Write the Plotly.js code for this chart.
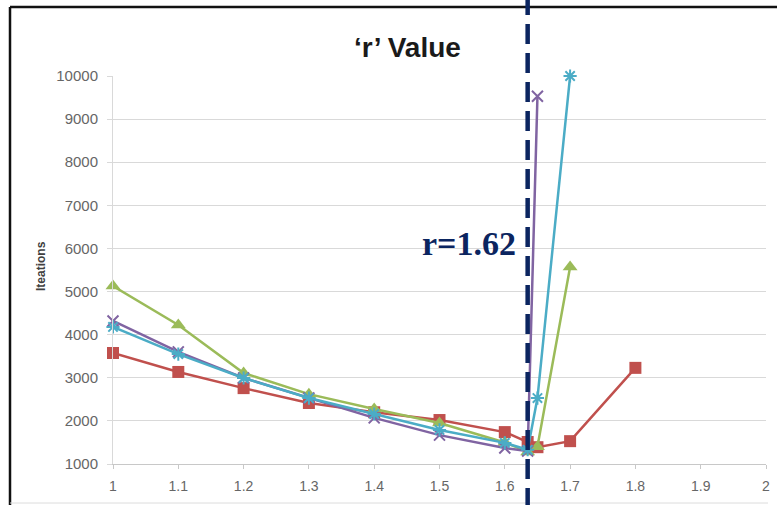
<!DOCTYPE html>
<html>
<head>
<meta charset="utf-8">
<script src="https://cdn.plot.ly/plotly-3.0.1.min.js"></script>
<style>html,body{margin:0;padding:0;background:#fff;}#chart{width:777px;height:505px;}</style>
</head>
<body>
<div id="chart"></div>
<script>
// ---- data ----
const xRed    = [1, 1.1, 1.2, 1.3, 1.4, 1.5, 1.6, 1.635, 1.65, 1.7, 1.8];
const yRed    = [3575, 3135, 2760, 2415, 2200, 2020, 1740, 1510, 1390, 1530, 3230];
const xGreen  = [1, 1.1, 1.2, 1.3, 1.4, 1.5, 1.6, 1.635, 1.65, 1.7];
const yGreen  = [5130, 4225, 3110, 2620, 2275, 1950, 1500, 1280, 1400, 5570];
const xPurple = [1, 1.1, 1.2, 1.3, 1.4, 1.5, 1.6, 1.635, 1.65];
const yPurple = [4318, 3600, 2995, 2530, 2070, 1670, 1370, 1300, 9530];
const xCyan   = [1, 1.1, 1.2, 1.3, 1.4, 1.5, 1.6, 1.635, 1.65, 1.7];
const yCyan   = [4180, 3550, 2995, 2530, 2160, 1790, 1490, 1330, 2530, 10000];
const rLine   = 1.635;
const xTicks  = [1, 1.1, 1.2, 1.3, 1.4, 1.5, 1.6, 1.7, 1.8, 1.9, 2];
const xTickText = ['1', '1.1', '1.2', '1.3', '1.4', '1.5', '1.6', '1.7', '1.8', '1.9', '2'];
const yTicks  = [1000, 2000, 3000, 4000, 5000, 6000, 7000, 8000, 9000, 10000];
const yTickText = ['1000', '2000', '3000', '4000', '5000', '6000', '7000', '8000', '9000', '10000'];
const titleText = '\u2018r\u2019 Value';
const yTitleText = 'Iteations';
const rLabel = 'r=1.62';

const RED = '#C0504D', GREEN = '#9BBB59', PURPLE = '#8064A2', CYAN = '#4BACC6';

function tr(x, y, color, sym, size, mline) {
  return {
    x: x, y: y, type: 'scatter', mode: 'lines+markers', cliponaxis: false,
    line: {color: color, width: 2.5},
    marker: {symbol: sym, size: size, color: color, line: {color: color, width: mline}},
    hoverinfo: 'skip'
  };
}

const data = [
  tr(xRed, yRed, RED, 'square', 12, 0),
  tr(xGreen, yGreen, GREEN, 'triangle-up', 13, 0),
  tr(xPurple, yPurple, PURPLE, 'x-thin-open', 11, 2),
  tr(xCyan, yCyan, CYAN, 'asterisk-open', 11, 2)
];

function px2x(px) { return (px - 113) / 653; }
function py2y(py) { return (464 - py) / 388; }

const layout = {
  width: 777, height: 505,
  margin: {l: 113, r: 11, t: 76, b: 41},
  paper_bgcolor: '#ffffff', plot_bgcolor: '#ffffff',
  showlegend: false,
  font: {family: 'Liberation Sans, Arial, sans-serif', color: '#595959', size: 11},
  xaxis: {
    range: [1, 2], tickvals: xTicks, ticktext: xTickText,
    showgrid: false, zeroline: false,
    showline: true, linecolor: '#c8c8c8', linewidth: 1,
    ticks: 'outside', ticklen: 4, tickcolor: '#c8c8c8',
    ticklabelstandoff: 5,
    tickfont: {size: 14, color: '#666666'}
  },
  yaxis: {
    range: [1000, 10000], tickvals: yTicks, ticktext: yTickText,
    showgrid: true, gridcolor: '#d9d9d9', gridwidth: 1,
    zeroline: false,
    showline: true, linecolor: '#d9d9d9', linewidth: 1,
    ticks: 'outside', ticklen: 5, tickcolor: '#d9d9d9',
    ticklabelstandoff: 6,
    tickfont: {size: 15, color: '#666666'}
  },
  shapes: [
    {type: 'rect', xref: 'paper', yref: 'paper', x0: px2x(285), x1: px2x(530), y0: py2y(80), y1: py2y(28),
     fillcolor: '#ffffff', line: {width: 0}, layer: 'above'},
    {type: 'line', xref: 'paper', yref: 'paper', x0: px2x(10), x1: px2x(777), y0: py2y(7), y1: py2y(7),
     line: {color: '#111111', width: 2.5}},
    {type: 'line', xref: 'paper', yref: 'paper', x0: px2x(10), x1: px2x(10), y0: py2y(7), y1: py2y(505),
     line: {color: '#111111', width: 2.5}},
    {type: 'line', xref: 'paper', yref: 'paper', x0: px2x(10), x1: px2x(768), y0: py2y(503), y1: py2y(503),
     line: {color: '#dcdcdc', width: 1}},
    {type: 'line', xref: 'x', yref: 'paper', x0: rLine, x1: rLine, y0: py2y(508), y1: py2y(-2),
     line: {color: '#0b2560', width: 4.5, dash: '20px,9px'}, layer: 'above'}
  ],
  annotations: [
    {text: '<b>' + titleText + '</b>', xref: 'paper', yref: 'paper', x: px2x(407), y: py2y(47),
     xanchor: 'center', yanchor: 'middle', showarrow: false,
     font: {family: 'Liberation Sans, Arial, sans-serif', size: 28, color: '#1a1a1a'}},
    {text: '<b>' + rLabel + '</b>', xref: 'paper', yref: 'paper', x: px2x(518), y: py2y(243),
     xanchor: 'right', yanchor: 'middle', showarrow: false,
     font: {family: 'Liberation Serif, Times New Roman, serif', size: 34, color: '#0b2560'}},
    {text: '<b>' + yTitleText + '</b>', xref: 'paper', yref: 'paper', x: px2x(41), y: py2y(266),
     xanchor: 'center', yanchor: 'middle', textangle: -90, showarrow: false,
     font: {family: 'Liberation Sans, Arial, sans-serif', size: 12, color: '#404040'}}
  ]
};

Plotly.newPlot('chart', data, layout, {staticPlot: true, displayModeBar: false});
</script>
</body>
</html>
